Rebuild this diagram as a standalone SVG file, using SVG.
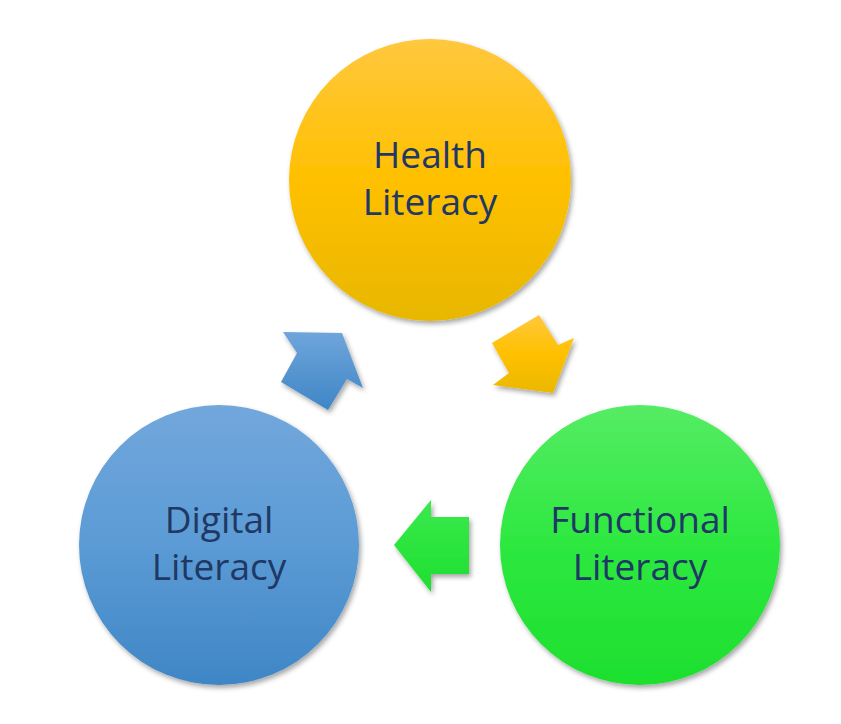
<svg xmlns="http://www.w3.org/2000/svg" width="841" height="724" viewBox="0 0 841 724">
<defs>
<linearGradient id="gY" x1="0" y1="0" x2="0" y2="1">
<stop offset="0" stop-color="#FFC83E"/>
<stop offset="0.5" stop-color="#FFC000"/>
<stop offset="1" stop-color="#E8B700"/>
</linearGradient>
<linearGradient id="gB" x1="0" y1="0" x2="0" y2="1">
<stop offset="0" stop-color="#72A7DC"/>
<stop offset="0.5" stop-color="#5B9BD5"/>
<stop offset="1" stop-color="#3F86C6"/>
</linearGradient>
<linearGradient id="gG" x1="0" y1="0" x2="0" y2="1">
<stop offset="0" stop-color="#55EC64"/>
<stop offset="0.5" stop-color="#2DE840"/>
<stop offset="1" stop-color="#1DDF2E"/>
</linearGradient>
<linearGradient id="gBa" gradientUnits="userSpaceOnUse" x1="0" y1="332" x2="0" y2="410">
<stop offset="0" stop-color="#6FA5DB"/>
<stop offset="1" stop-color="#3F86C6"/>
</linearGradient>
<linearGradient id="gYa" gradientUnits="userSpaceOnUse" x1="0" y1="315" x2="0" y2="393">
<stop offset="0" stop-color="#FFC83E"/>
<stop offset="0.5" stop-color="#FFC000"/>
<stop offset="1" stop-color="#EAB800"/>
</linearGradient>
<linearGradient id="gGa" gradientUnits="userSpaceOnUse" x1="0" y1="500" x2="0" y2="592">
<stop offset="0" stop-color="#3AEA4C"/>
<stop offset="1" stop-color="#1EDF30"/>
</linearGradient>
<filter id="sh" x="-10%" y="-10%" width="125%" height="125%">
<feDropShadow dx="2" dy="3" stdDeviation="2.5" flood-color="#000" flood-opacity="0.35"/>
</filter>
</defs>
<style>
.lbl{font-family:"Open Sans","Noto Sans","Liberation Sans",sans-serif;font-size:37px;fill:#1F3864;text-anchor:middle}
</style>
<rect width="841" height="724" fill="#FFFFFF"/>
<g id="connectors" filter="url(#sh)">
<polygon id="arrow-digital-health" points="342,333 363,388 347,379 328,410 281,382 297,353 283,332" fill="url(#gBa)"/>
<polygon id="arrow-health-functional" points="553,393 493,385 509,373 492,343 539,315 558,345 574,338" fill="url(#gYa)"/>
<polygon id="arrow-functional-digital" points="394,545 431,500 431,517 469,517 469,574 431,574 431,592" fill="url(#gGa)"/>
</g>
<g id="health">
<circle cx="430" cy="180" r="141" fill="url(#gY)" filter="url(#sh)"/>
<text class="lbl" x="430" y="168">Health</text>
<text class="lbl" x="430" y="215">Literacy</text>
</g>
<g id="digital">
<circle cx="219" cy="545" r="140" fill="url(#gB)" filter="url(#sh)"/>
<text class="lbl" x="219" y="533">Digital</text>
<text class="lbl" x="219" y="580">Literacy</text>
</g>
<g id="functional">
<circle cx="640" cy="545" r="140" fill="url(#gG)" filter="url(#sh)"/>
<text class="lbl" x="640" y="533">Functional</text>
<text class="lbl" x="640" y="580">Literacy</text>
</g>
</svg>
